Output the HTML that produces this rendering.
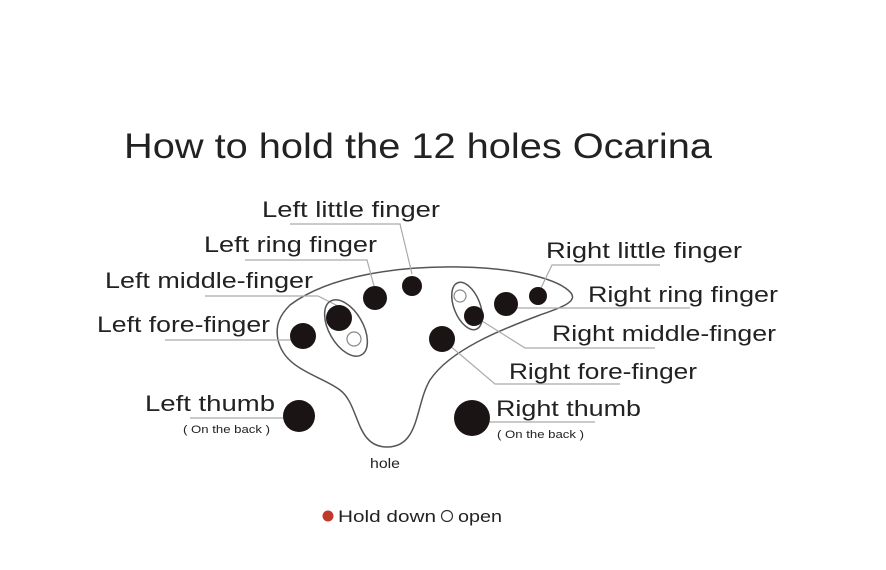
<!DOCTYPE html>
<html><head><meta charset="utf-8"><style>
html,body{margin:0;padding:0;background:#fff;}
svg{display:block;}
text{font-family:"Liberation Sans","DejaVu Sans",sans-serif;fill:#222;}
</style></head><body>
<svg width="886" height="570" viewBox="0 0 886 570" xmlns="http://www.w3.org/2000/svg">
<rect width="886" height="570" fill="#fff"/>
<text x="124" y="158" font-size="35" textLength="588" lengthAdjust="spacingAndGlyphs">How to hold the 12 holes Ocarina</text>

<!-- body -->
<path d="M 290 305 C 330 275, 400 266, 460 267 C 520 268, 560 280, 571 293 C 578 302, 560 308, 540 315 C 500 330, 450 350, 430 380 C 415 405, 420 447, 387 447 C 355 447, 360 405, 340 390 C 320 375, 285 370, 278 340 C 275 325, 280 315, 290 305 Z" fill="none" stroke="#555" stroke-width="1.5"/>

<!-- leader lines -->
<g fill="none" stroke="#aaa" stroke-width="1.2">
<polyline points="290,224 400,224 412,274"/>
<polyline points="245,260 367,260 374,286"/>
<polyline points="205,296 318,296 338,306"/>
<polyline points="165,340 303,340"/>
<polyline points="190,418 299,418"/>
<polyline points="660,265 552,265 540,290"/>
<polyline points="506,308 690,308"/>
<polyline points="474,316 525,348 655,348"/>
<polyline points="442,339 495,384 620,384"/>
<polyline points="472,422 595,422"/>
</g>

<!-- ellipses -->
<ellipse cx="346" cy="328" rx="17" ry="31" transform="rotate(-30 346 328)" fill="none" stroke="#555" stroke-width="1.5"/>
<ellipse cx="467" cy="306" rx="13" ry="25" transform="rotate(-22 467 306)" fill="none" stroke="#555" stroke-width="1.5"/>

<!-- holes -->
<g fill="#1a1414">
<circle cx="303" cy="336" r="13"/>
<circle cx="339" cy="318" r="13"/>
<circle cx="375" cy="298" r="12"/>
<circle cx="412" cy="286" r="10"/>
<circle cx="442" cy="339" r="13"/>
<circle cx="474" cy="316" r="10"/>
<circle cx="506" cy="304" r="12"/>
<circle cx="538" cy="296" r="9"/>
<circle cx="299" cy="416" r="16"/>
<circle cx="472" cy="418" r="18"/>
</g>
<circle cx="354" cy="339" r="7" fill="#fff" stroke="#888" stroke-width="1.2"/>
<circle cx="460" cy="296" r="6" fill="#fff" stroke="#888" stroke-width="1.2"/>

<!-- labels -->
<g font-size="22">
<text x="262" y="217" textLength="178" lengthAdjust="spacingAndGlyphs">Left little finger</text>
<text x="204" y="252" textLength="173" lengthAdjust="spacingAndGlyphs">Left ring finger</text>
<text x="105" y="288" textLength="208" lengthAdjust="spacingAndGlyphs">Left middle-finger</text>
<text x="97" y="332" textLength="173" lengthAdjust="spacingAndGlyphs">Left fore-finger</text>
<text x="145" y="411" textLength="130" lengthAdjust="spacingAndGlyphs">Left thumb</text>
<text x="546" y="258" textLength="196" lengthAdjust="spacingAndGlyphs">Right little finger</text>
<text x="588" y="302" textLength="190" lengthAdjust="spacingAndGlyphs">Right ring finger</text>
<text x="552" y="341" textLength="224" lengthAdjust="spacingAndGlyphs">Right middle-finger</text>
<text x="509" y="379" textLength="188" lengthAdjust="spacingAndGlyphs">Right fore-finger</text>
<text x="496" y="416" textLength="145" lengthAdjust="spacingAndGlyphs">Right thumb</text>
</g>
<text x="183" y="433" font-size="11" textLength="87" lengthAdjust="spacingAndGlyphs">( On the back )</text>
<text x="497" y="438" font-size="11" textLength="87" lengthAdjust="spacingAndGlyphs">( On the back )</text>
<text x="370" y="468" font-size="14" textLength="30" lengthAdjust="spacingAndGlyphs">hole</text>

<!-- legend -->
<circle cx="328" cy="516" r="5.5" fill="#c0392b"/>
<text x="338" y="522" font-size="17" fill="#333" textLength="98" lengthAdjust="spacingAndGlyphs">Hold down</text>
<circle cx="447" cy="516" r="5.5" fill="none" stroke="#333" stroke-width="1.2"/>
<text x="458" y="522" font-size="17" fill="#333" textLength="44" lengthAdjust="spacingAndGlyphs">open</text>
</svg>
</body></html>
